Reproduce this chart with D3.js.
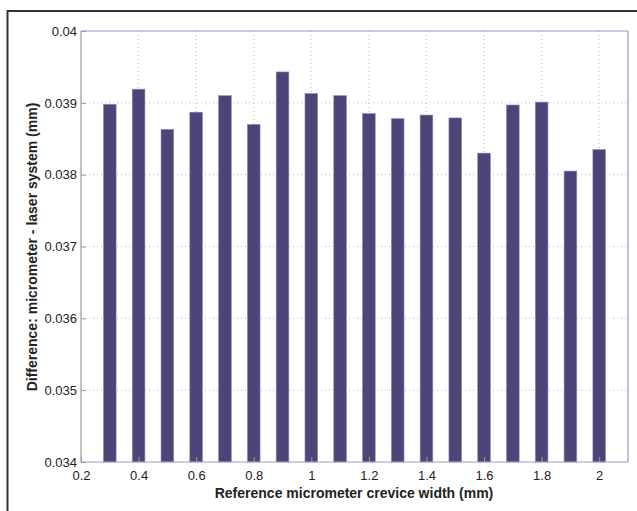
<!DOCTYPE html>
<html>
<head>
<meta charset="utf-8">
<script src="https://cdn.jsdelivr.net/npm/d3@7"></script>
<style>
  body { margin: 0; background: #fff; }
  svg text { font-family: "Liberation Sans", Arial, sans-serif; fill: #222; }
</style>
</head>
<body>
<svg id="chart" width="637" height="511"></svg>
<script>
// crevice widths (mm) and measured differences (mm)
const widths = [0.3, 0.4, 0.5, 0.6, 0.7, 0.8, 0.9, 1.0, 1.1, 1.2, 1.3, 1.4, 1.5, 1.6, 1.7, 1.8, 1.9, 2.0];
const diffs = [0.03898, 0.03919, 0.03863, 0.03887, 0.03910, 0.03870, 0.03943, 0.03913, 0.03910,
  0.03885, 0.03878, 0.03883, 0.03879, 0.03830, 0.03897, 0.03901, 0.03805, 0.03835];
const xTicks = [0.2, 0.4, 0.6, 0.8, 1, 1.2, 1.4, 1.6, 1.8, 2];
const yTicks = [0.034, 0.035, 0.036, 0.037, 0.038, 0.039, 0.04];

const svg = d3.select("#chart");
const margin = { left: 81, top: 31, right: 637 - 628, bottom: 511 - 462 };
const w = 637 - margin.left - margin.right;
const h = 511 - margin.top - margin.bottom;

// outer frame of the figure
svg.append("rect")
  .attr("x", 7.5).attr("y", 11)
  .attr("width", 640).attr("height", 520)
  .attr("fill", "none").attr("stroke", "#333").attr("stroke-width", 2);

const x = d3.scaleLinear().domain([0.2, 2.1]).range([0, w]);
const y = d3.scaleLinear().domain([0.034, 0.04]).range([h, 0]);

const g = svg.append("g").attr("transform", `translate(${margin.left},${margin.top})`);

// dotted grid
g.selectAll(".vgrid").data(xTicks.filter(d => d > 0.2))
  .join("line")
  .attr("x1", d => x(d)).attr("x2", d => x(d))
  .attr("y1", 0).attr("y2", h)
  .attr("stroke", "#b8b8b8").attr("stroke-dasharray", "1,3");
g.selectAll(".hgrid").data(yTicks.filter(d => d > 0.034 && d < 0.04))
  .join("line")
  .attr("x1", 0).attr("x2", w)
  .attr("y1", d => y(d)).attr("y2", d => y(d))
  .attr("stroke", "#b8b8b8").attr("stroke-dasharray", "1,3");

// bars
const bw = x(0.244) - x(0.2);
g.selectAll(".bar").data(widths)
  .join("rect")
  .attr("x", d => x(d) - bw / 2)
  .attr("y", (d, i) => y(diffs[i]))
  .attr("width", bw)
  .attr("height", (d, i) => h - y(diffs[i]))
  .attr("fill", "#4b4677")
  .attr("stroke", "#8d87c4").attr("stroke-width", 0.6);

// axes
const yAxis = d3.axisLeft(y).tickValues(yTicks).tickSize(-5).tickPadding(4)
  .tickFormat(d => String(+d.toFixed(3)));
const xAxis = d3.axisBottom(x).tickValues(xTicks).tickSize(-5).tickPadding(9)
  .tickFormat(d => String(+d.toFixed(1)));

const ya = g.append("g").call(yAxis);
const xa = g.append("g").attr("transform", `translate(0,${h})`).call(xAxis);
[ya, xa].forEach(a => {
  a.select(".domain").remove();
  a.selectAll(".tick line").attr("stroke", "#999");
  a.selectAll("text").attr("font-size", 13).attr("fill", "#333");
});

// box
g.append("line").attr("x1", 0).attr("x2", w).attr("y1", 0).attr("y2", 0)
  .attr("stroke", "#9891d0").attr("stroke-width", 1.2);
g.append("line").attr("x1", w).attr("x2", w).attr("y1", 0).attr("y2", h)
  .attr("stroke", "#9891d0").attr("stroke-width", 1.2);
g.append("line").attr("x1", 0).attr("x2", 0).attr("y1", 0).attr("y2", h)
  .attr("stroke", "#999").attr("stroke-width", 1.2);
g.append("line").attr("x1", 0).attr("x2", w).attr("y1", h).attr("y2", h)
  .attr("stroke", "#a09cc0").attr("stroke-width", 1.2);

// labels
svg.append("text")
  .attr("x", 354).attr("y", 498)
  .attr("text-anchor", "middle")
  .attr("font-size", 14).attr("font-weight", "bold")
  .text("Reference micrometer crevice width (mm)");
svg.append("text")
  .attr("transform", "translate(37,247) rotate(-90)")
  .attr("text-anchor", "middle")
  .attr("font-size", 14).attr("font-weight", "bold")
  .text("Difference: micrometer - laser system (mm)");
</script>
</body>
</html>
